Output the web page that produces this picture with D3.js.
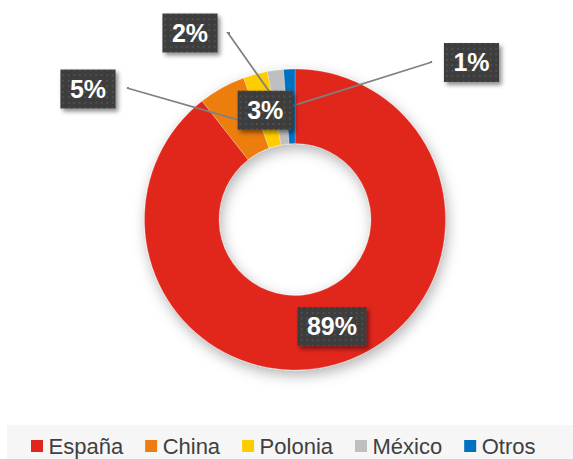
<!DOCTYPE html>
<html>
<head>
<meta charset="utf-8">
<script src="https://cdn.jsdelivr.net/npm/d3@7"></script>
<style>
  html, body { margin: 0; padding: 0; background: #fff; }
  svg { display: block; font-family: "Liberation Sans", Arial, sans-serif; }
</style>
</head>
<body>
<svg id="chart" width="573" height="459"></svg>
<script>
// data
const paises = ["España", "China", "Polonia", "México", "Otros"];
const valores = [88.7, 5.0, 2.6, 1.7, 1.2];
const etiquetas = ["89%", "5%", "3%", "2%", "1%"];
const colores = ["#e1251b", "#ed7d11", "#ffcc00", "#c0bfc0", "#0070c0"];

const width = 573, height = 459;
const cx = 295, cy = 219.5;
const outerR = 150.5, innerR = 76;

// where the label boxes sit (relative to the donut centre); null = on the slice
const labelLayout = {
  "España": null,
  "China":   { box: [-207, -130.5], elbow: [-168, -131.5] },
  "Polonia": null,
  "México":  { box: [-105, -186.5], elbow: [-67, -186.5] },
  "Otros":   { box: [176.5, -157], elbow: [137, -157.5] }
};

const svg = d3.select("#chart");
const defs = svg.append("defs");

// soft shadow under the ring
const sh = defs.append("filter").attr("id", "ringShadow")
  .attr("x", "-30%").attr("y", "-30%").attr("width", "160%").attr("height", "160%");
sh.append("feDropShadow").attr("dx", 2).attr("dy", 5).attr("stdDeviation", 7)
  .attr("flood-color", "#000").attr("flood-opacity", 0.3);

const bsh = defs.append("filter").attr("id", "boxShadow")
  .attr("x", "-30%").attr("y", "-30%").attr("width", "160%").attr("height", "160%");
bsh.append("feDropShadow").attr("dx", 2.5).attr("dy", 3).attr("stdDeviation", 2)
  .attr("flood-color", "#000").attr("flood-opacity", 0.45);

// dotted dark fill for the labels
const pat = defs.append("pattern").attr("id", "dots")
  .attr("patternUnits", "userSpaceOnUse").attr("width", 5.5).attr("height", 5.5);
pat.append("rect").attr("width", 5.5).attr("height", 5.5).attr("fill", "#3d3d3d");
pat.append("circle").attr("cx", 2.75).attr("cy", 2.75).attr("r", 0.9).attr("fill", "#575757");

const data = paises.map((p, i) => ({ pais: p, valor: valores[i], label: etiquetas[i], color: colores[i] }));

const pie = d3.pie().sort(null).value(d => d.valor);
const arcs = pie(data);

const arc = d3.arc().innerRadius(innerR).outerRadius(outerR);

const g = svg.append("g").attr("transform", `translate(${cx},${cy})`);

g.append("g").attr("filter", "url(#ringShadow)")
  .selectAll("path")
  .data(arcs)
  .join("path")
  .attr("d", arc)
  .attr("fill", d => d.data.color)
  .attr("stroke", "#fff")
  .attr("stroke-opacity", 0.6)
  .attr("stroke-width", 0.4);

// leader lines
const lines = g.append("g");
arcs.forEach(a => {
  const lay = labelLayout[a.data.pais];
  if (!lay) return;
  const c = arc.centroid(a);
  const bx = lay.box, el = lay.elbow;
  const half = (bx[0] < el[0]) ? 1 : -1;
  lines.append("polyline")
    .attr("points", [[el[0] + half * 2, el[1]], el, c].map(p => p.join(",")).join(" "))
    .attr("fill", "none")
    .attr("stroke", "#808080")
    .attr("stroke-width", 1.8);
});

// label boxes
const labels = g.append("g");
arcs.forEach(a => {
  const lay = labelLayout[a.data.pais];
  const pos = lay ? lay.box : arc.centroid(a);
  const lg = labels.append("g").attr("transform", `translate(${pos[0]},${pos[1]})`);
  const rect = lg.append("rect").attr("fill", "url(#dots)").attr("filter", "url(#boxShadow)");
  const t = lg.append("text")
    .attr("text-anchor", "middle")
    .attr("dy", "0.35em")
    .attr("fill", "#fff")
    .attr("font-weight", "bold")
    .attr("font-size", 25)
    .text(a.data.label);
  const w = t.node().getComputedTextLength() + 19;
  const h = 39;
  rect.attr("x", -w / 2).attr("y", -h / 2).attr("width", w).attr("height", h);
});

// legend
svg.append("rect")
  .attr("x", 7).attr("y", 425)
  .attr("width", width - 7).attr("height", height - 425)
  .attr("fill", "#f6f6f6");

const leg = svg.append("g");
let lx = 31;
data.forEach(d => {
  leg.append("rect")
    .attr("x", lx).attr("y", 440)
    .attr("width", 12).attr("height", 12)
    .attr("fill", d.color);
  const t = leg.append("text")
    .attr("x", lx + 17.5).attr("y", 454)
    .attr("font-size", 22)
    .attr("fill", "#404040")
    .text(d.pais);
  lx += 17.5 + t.node().getComputedTextLength() + 22;
});
</script>
</body>
</html>
